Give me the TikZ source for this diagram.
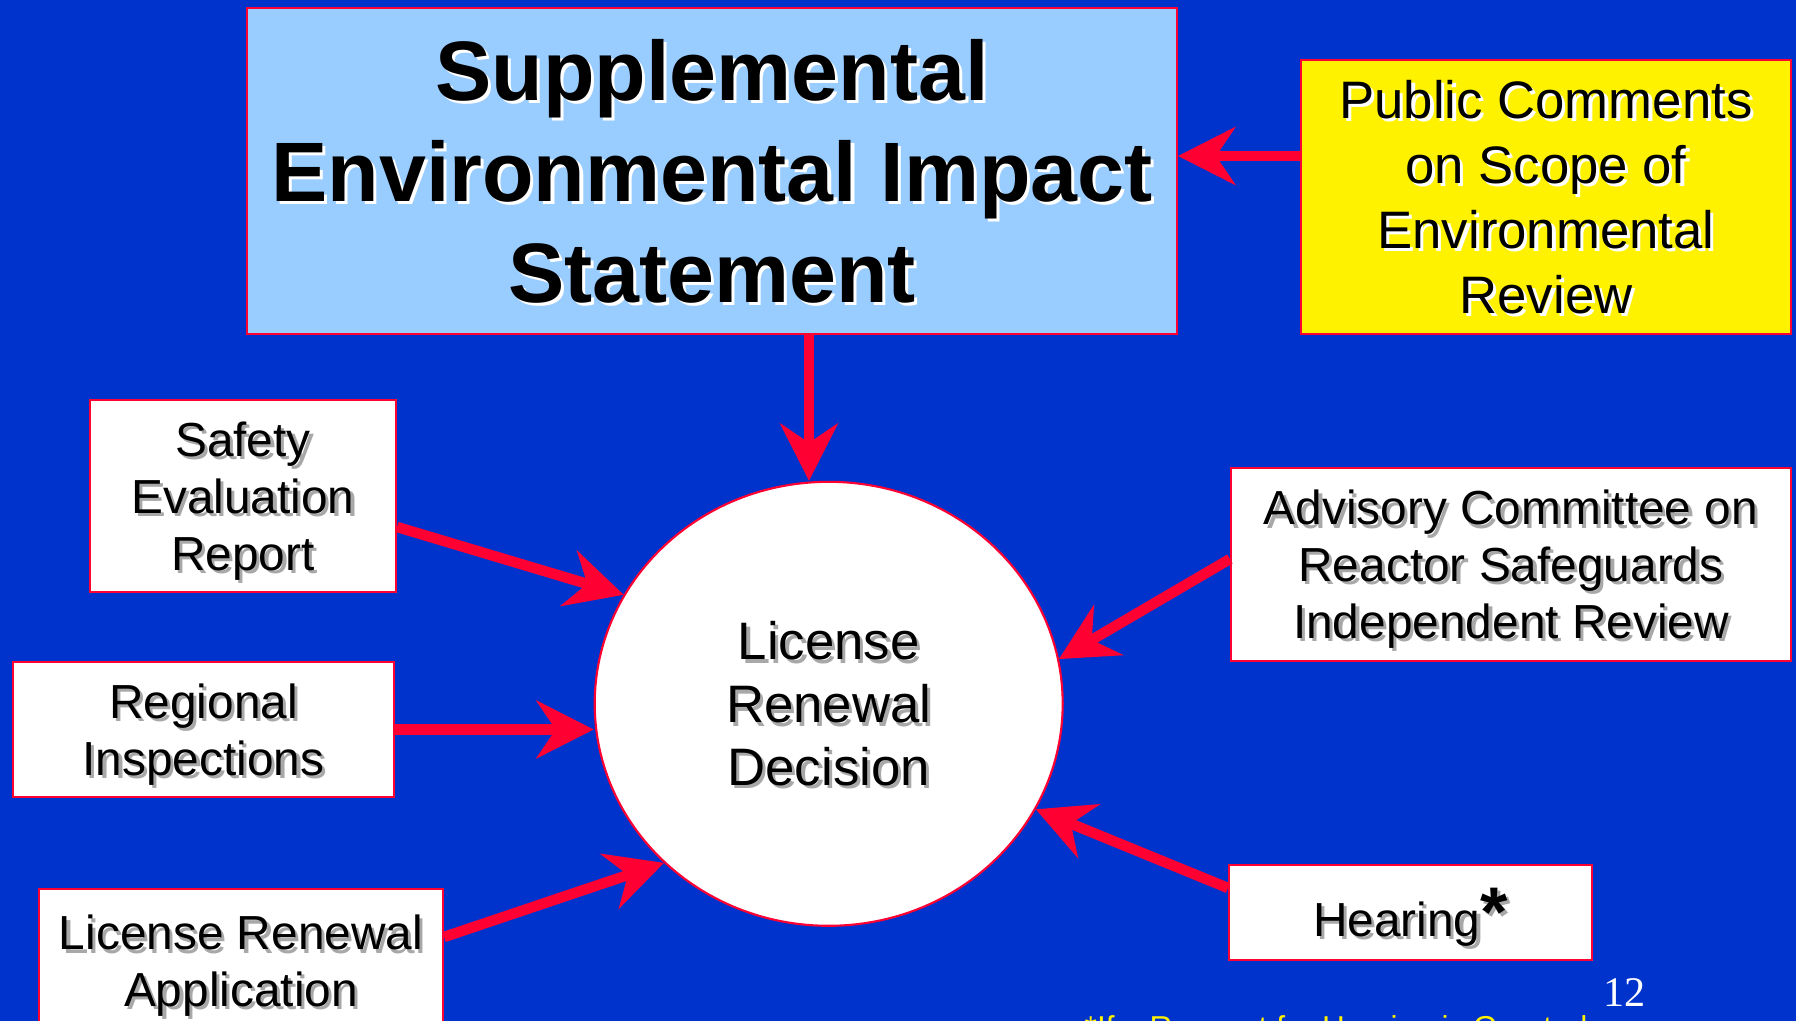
\documentclass[tikz,border=0pt]{standalone}
\usepackage{fontspec}
\setmainfont{Liberation Sans}
\newfontfamily\pagenumfont{Liberation Serif}
\usetikzlibrary{arrows.meta,shapes.geometric}
\definecolor{slideblue}{HTML}{0033CC}
\definecolor{seisblue}{HTML}{99CCFF}
\definecolor{nrcred}{HTML}{FF0033}
\definecolor{shadegray}{HTML}{A8A8A8}
\newcommand{\shd}[2][shadegray]{\makebox[0pt][l]{\hspace{0.9pt}\raisebox{-0.9pt}{\textcolor{#1}{#2}}}#2}
\tikzset{
    box/.style={draw=nrcred, line width=0.6pt, fill=white, align=center,
      inner sep=0pt, text depth=0pt, font=\fontsize{13.6}{16.2}\selectfont},
    feed/.style={draw=nrcred, line width=1.05mm,
      -{Stealth[length=5.8mm,width=5.9mm,inset=2mm,line width=0pt]}}
}

\begin{document}
\begin{tikzpicture}[x=0.1mm,y=-0.1mm]
    \useasboundingbox (0,0) rectangle (1796,1021);
    \fill[slideblue] (0,0) rectangle (1796,1021);
    \node[box, fill=seisblue, minimum width=93mm, minimum height=32.6mm,
      font=\bfseries\fontsize{24}{28.7}\selectfont] (seis) at (712,171)
      {\shd[white]{Supplemental}\\ \shd[white]{Environmental Impact}\\ \shd[white]{Statement}};
    \node[box, fill=yellow, minimum width=49mm, minimum height=27.4mm,
      font=\fontsize{15}{18.5}\selectfont] (pub) at (1546,197)
      {\shd[white]{Public Comments}\\ \shd[white]{on Scope of}\\ \shd[white]{Environmental}\\ \shd[white]{Review}};
    \node[box, shape=ellipse, minimum width=46.8mm, minimum height=44.4mm,
      font=\fontsize{15}{17.9}\selectfont] (dec) at (828.7,703.8)
      {\shd{License}\\ \shd{Renewal}\\ \shd{Decision}};
    \node[box, minimum width=30.6mm, minimum height=19.2mm] (saf) at (243,496)
      {\shd{Safety}\\ \shd{Evaluation}\\ \shd{Report}};
    \node[box, minimum width=38.1mm, minimum height=13.5mm] (reg) at (203.5,729.5)
      {\shd{Regional}\\ \shd{Inspections}};
    \node[box, minimum width=40.4mm, minimum height=14.4mm] (lra) at (241,961)
      {\shd{License Renewal}\\ \shd{Application}};
    \node[box, minimum width=56mm, minimum height=19.3mm] (adv) at (1511,564.5)
      {\shd{Advisory Committee on}\\ \shd{Reactor Safeguards}\\ \shd{Independent Review}};
    \node[box, minimum width=36.3mm, minimum height=9.5mm] (hear) at (1410.5,912.5)
      {\shd{Hearing{\fontsize{20}{20}\selectfont\bfseries *}}};
    \node[text=white, inner sep=0pt, anchor=base west,
      font=\pagenumfont\fontsize{12}{12}\selectfont] (pnum) at (1603,1006) {12};
    \node[text=yellow, inner sep=0pt, anchor=north west,
      font=\fontsize{9}{9}\selectfont] (note) at (1084,1015)
      {*If a Request for Hearing is Granted};
    \draw[feed] ([yshift=4.1mm]pub.west) -- ([yshift=4.1mm]pub.west -| seis.east);
    \draw[feed] ([xshift=9.7mm]seis.south) -- ([xshift=9.7mm]seis.south |- dec.north);
    \draw[feed] ([yshift=-3.1mm]saf.east) -- (dec.152);
    \draw[feed] (reg.east) -- (reg.east -| dec.west);
    \draw[feed] ([yshift=2.4mm]lra.east) -- (dec.224);
    \draw[feed] ([yshift=0.55mm]adv.west) -- (dec.11);
    \draw[feed] ([yshift=2.45mm]hear.west) -- (dec.333);
\end{tikzpicture}
\end{document}
